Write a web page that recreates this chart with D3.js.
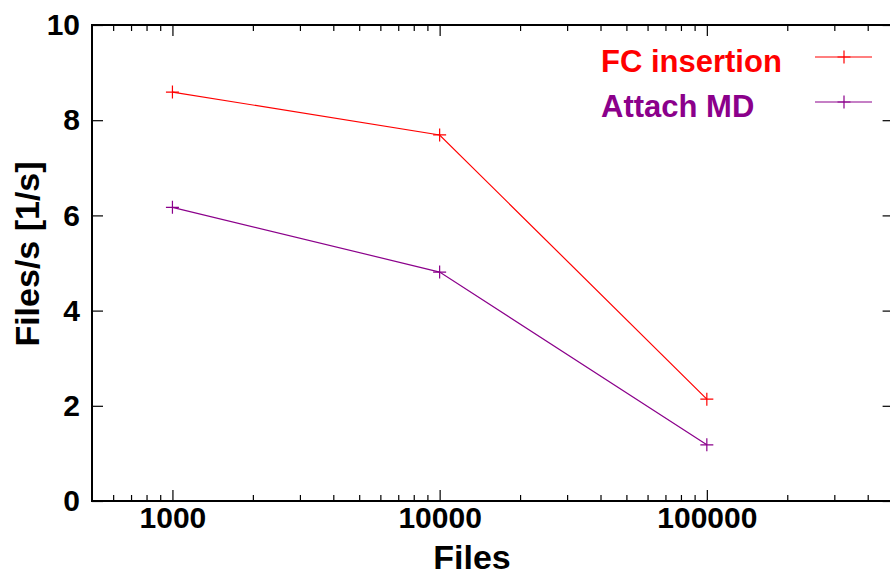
<!DOCTYPE html>
<html>
<head>
<meta charset="utf-8">
<script src="https://cdn.jsdelivr.net/npm/d3@7"></script>
<style>
  body { margin: 0; background: #fff; }
  svg { display: block; font-family: "Liberation Sans", Arial, sans-serif; font-weight: bold; }
</style>
</head>
<body>
<svg id="chart" width="890" height="575"></svg>
<script>
// data
const files = [1000, 10000, 100000];
const fcInsertion = [8.59, 7.69, 2.14];
const attachMD = [6.17, 4.81, 1.18];

const seriesNames = ['FC insertion', 'Attach MD'];
const seriesColors = ['#ff0000', '#8b008b'];

const xMajor = [1000, 10000, 100000];
const xMinor = [600, 700, 800, 900,
  2000, 3000, 4000, 5000, 6000, 7000, 8000, 9000,
  20000, 30000, 40000, 50000, 60000, 70000, 80000, 90000,
  200000, 300000, 400000];
const yTicks = [0, 2, 4, 6, 8, 10];

const margin = { top: 25, right: -3.6, bottom: 74, left: 92 };
const width = 890 - margin.left - margin.right;
const height = 575 - margin.top - margin.bottom;

const svg = d3.select('#chart');
const g = svg.append('g')
  .attr('transform', `translate(${margin.left},${margin.top})`);

const x = d3.scaleLog().domain([500, 500000]).range([0, width]);
const y = d3.scaleLinear().domain([0, 10]).range([height, 0]);

// major + minor ticks, mirrored on all sides
function styleAxis(sel) {
  sel.select('.domain').remove();
  sel.selectAll('line').attr('stroke', '#000').attr('stroke-width', 1.2);
  sel.selectAll('text').attr('fill', '#000').style('font-size', '30px');
}

g.append('g')
  .attr('transform', `translate(0,${height})`)
  .call(d3.axisBottom(x).tickValues(xMajor).tickSize(-11).tickPadding(6).tickFormat(d3.format('d')))
  .call(styleAxis);
g.append('g')
  .attr('transform', `translate(0,${height})`)
  .call(d3.axisBottom(x).tickValues(xMinor).tickSize(-6).tickFormat(''))
  .call(styleAxis);
g.append('g')
  .call(d3.axisTop(x).tickValues(xMajor).tickSize(-11).tickFormat(''))
  .call(styleAxis);
g.append('g')
  .call(d3.axisTop(x).tickValues(xMinor).tickSize(-6).tickFormat(''))
  .call(styleAxis);

g.append('g')
  .call(d3.axisLeft(y).tickValues(yTicks).tickSize(-11).tickPadding(12).tickFormat(d3.format('d')))
  .call(styleAxis);
g.append('g')
  .attr('transform', `translate(${width},0)`)
  .call(d3.axisRight(y).tickValues(yTicks).tickSize(-11).tickFormat(''))
  .call(styleAxis);

// frame
g.append('rect')
  .attr('width', width)
  .attr('height', height)
  .attr('fill', 'none')
  .attr('stroke', '#000')
  .attr('stroke-width', 2);

// series
const series = [fcInsertion, attachMD];
const line = d3.line()
  .x((d, i) => x(files[i]))
  .y(d => y(d));

const cross = 6.5;
series.forEach((vals, s) => {
  g.append('path')
    .datum(vals)
    .attr('d', line)
    .attr('fill', 'none')
    .attr('stroke', seriesColors[s])
    .attr('stroke-width', 1.2);

  g.selectAll(null)
    .data(vals)
    .enter()
    .append('path')
    .attr('d', (d, i) => {
      const px = x(files[i]), py = y(d);
      return `M${px - cross},${py}H${px + cross}M${px},${py - cross}V${py + cross}`;
    })
    .attr('stroke', seriesColors[s])
    .attr('stroke-width', 1.2);
});

// legend
const legend = svg.append('g').attr('transform', 'translate(601,0)');
seriesNames.forEach((name, s) => {
  const ly = 57 + s * 45;
  legend.append('text')
    .attr('x', 0)
    .attr('y', ly + 15)
    .attr('fill', seriesColors[s])
    .style('font-size', '31px')
    .text(name);
  legend.append('line')
    .attr('x1', 214).attr('x2', 271)
    .attr('y1', ly).attr('y2', ly)
    .attr('stroke', seriesColors[s])
    .attr('stroke-width', 1.2);
  legend.append('path')
    .attr('d', `M${243 - cross},${ly}H${243 + cross}M243,${ly - cross}V${ly + cross}`)
    .attr('stroke', seriesColors[s])
    .attr('stroke-width', 1.2);
});

// axis titles
svg.append('text')
  .attr('x', 472)
  .attr('y', 569)
  .attr('text-anchor', 'middle')
  .style('font-size', '34px')
  .text('Files');

svg.append('text')
  .attr('transform', 'translate(39,254) rotate(-90)')
  .attr('text-anchor', 'middle')
  .style('font-size', '34px')
  .text('Files/s [1/s]');
</script>
</body>
</html>
